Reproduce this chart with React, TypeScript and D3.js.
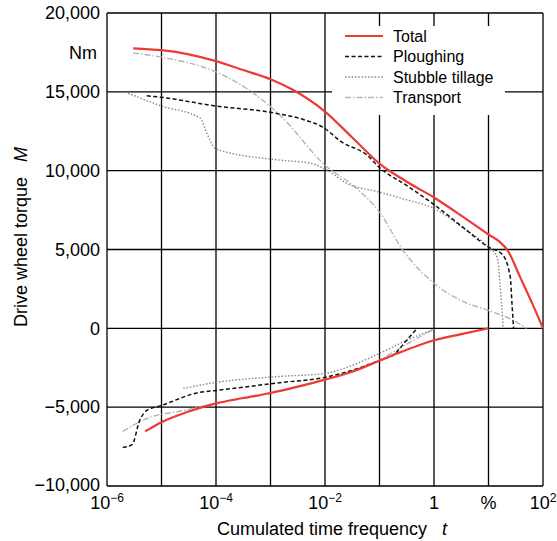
import * as d3 from 'd3';
import React, {useEffect} from 'react';

// exponent of t (log10) and torque M in Nm
const totalUpperT = [-5.52, -5.0, -4.5, -4.0, -3.5, -3.0, -2.6, -2.0, -1.5, -1.0, -0.5, 0, 0.5, 1.0, 1.2, 1.35, 1.58, 1.8, 2.0];
const totalUpperM = [17760, 17640, 17380, 16950, 16380, 15800, 15150, 13750, 12100, 10450, 9300, 8300, 7150, 5950, 5500, 4950, 3250, 1600, 0];
const totalLowerT = [-5.3, -5.0, -4.53, -4.0, -3.5, -3.0, -2.5, -2.0, -1.5, -1.0, -0.68, -0.3, 0, 0.48, 1.0];
const totalLowerM = [-6540, -5950, -5310, -4760, -4420, -4100, -3700, -3250, -2750, -2050, -1600, -1100, -760, -380, 0];

const ploughUpperT = [-5.27, -5.0, -4.0, -3.0, -2.83, -2.4, -2.04, -1.69, -1.23, -1.0, -0.5, 0, 0.5, 1.0, 1.25, 1.4, 1.43, 1.46];
const ploughUpperM = [14750, 14650, 14100, 13700, 13590, 13250, 12760, 11810, 10990, 10200, 9050, 7850, 6500, 5150, 4700, 3250, 1600, 0];
const ploughLowerT = [-5.71, -5.54, -5.4, -5.27, -5.0, -4.3, -4.0, -2.83, -2.0, -1.0, -0.71, -0.53, -0.31];
const ploughLowerM = [-7560, -7370, -5840, -5210, -4890, -4060, -3940, -3450, -3110, -2030, -1590, -870, 0];

const stubbleUpperT = [-5.67, -5.0, -4.29, -4.17, -4.0, -2.83, -2.28, -1.96, -1.6, -1.0, -0.5, 0, 0.5, 1.0, 1.16, 1.21, 1.27];
const stubbleUpperM = [14990, 14100, 13330, 12380, 11370, 10670, 10480, 10030, 9200, 8640, 8150, 7600, 6450, 5140, 4510, 2860, 0];
const stubbleLowerT = [-4.6, -4.0, -2.83, -2.0, -1.6, -1.0, -0.5, 0];
const stubbleLowerM = [-3810, -3430, -3050, -2860, -2480, -1590, -760, -60];

const transportUpperT = [-5.52, -5.0, -4.0, -3.45, -2.83, -2.0, -1.41, -1.0, -0.57, 0, 0.61, 1.0, 1.45, 1.7];
const transportUpperM = [17460, 17200, 16260, 15240, 13530, 10350, 8850, 7370, 4950, 2860, 1590, 1140, 510, 0];
const transportLowerT = [-5.71, -5.27, -4.6, -4.0, -3.0, -2.0, -1.0, -0.5, 0];
const transportLowerM = [-6540, -5720, -5210, -4760, -4120, -3250, -2000, -1000, -50];

const xTickExp = [-6, -5, -4, -3, -2, -1, 0, 1, 2];
const xTickLabels = ['10|−6', '', '10|−4', '', '10|−2', '', '1', '%', '10|2'];
const yTicks = [-10000, -5000, 0, 5000, 10000, 15000, 20000];

const seriesNames = ['Total', 'Ploughing', 'Stubble tillage', 'Transport'];
const seriesColors = ['#ee3a34', '#111111', '#888888', '#b4b4b4'];
const seriesDash = ['', '4,2.5', '1.5,1.8', '6,2,1.5,2'];
const seriesWidth = [2.2, 1.5, 1.4, 1.4];

export default function App() {
  const chartRef = React.useRef<HTMLDivElement>(null);

  useEffect(() => {
    drawChart();
  }, []);

  function drawChart() {
    const container = d3.select(chartRef.current);
    container.selectAll('*').remove();

    const W = 557, H = 541;
    const margin = {top: 13, right: 14, bottom: 55, left: 107};
    const width = W - margin.left - margin.right;
    const height = H - margin.top - margin.bottom;
    const font = 'Liberation Sans, Arial, sans-serif';

    const svg = container.append('svg')
      .attr('width', W)
      .attr('height', H)
      .style('position', 'absolute')
      .style('left', 0)
      .style('top', 0)
      .style('background', '#fff');

    const g = svg.append('g')
      .attr('transform', 'translate(' + margin.left + ',' + margin.top + ')');

    const x = d3.scaleLog().domain([1e-6, 1e2]).range([0, width]);
    const y = d3.scaleLinear().domain([-10000, 20000]).range([height, 0]);

    // grid
    g.append('g').selectAll('line')
      .data(xTickExp)
      .enter().append('line')
      .attr('x1', d => x(Math.pow(10, d))).attr('x2', d => x(Math.pow(10, d)))
      .attr('y1', 0).attr('y2', height)
      .attr('stroke', '#000').attr('stroke-width', 1.3);
    g.append('g').selectAll('line')
      .data(yTicks)
      .enter().append('line')
      .attr('x1', 0).attr('x2', width)
      .attr('y1', d => y(d)).attr('y2', d => y(d))
      .attr('stroke', '#000').attr('stroke-width', 1.3);

    // y tick labels
    const fmt = d3.format(',');
    g.append('g').selectAll('text')
      .data(yTicks)
      .enter().append('text')
      .attr('x', -7)
      .attr('y', d => y(d))
      .attr('dy', d => d === -10000 ? '0.25em' : '0.35em')
      .attr('text-anchor', 'end')
      .attr('font-family', font)
      .attr('font-size', 18)
      .text(d => fmt(d).replace('-', '\u2212'));

    g.append('text')
      .attr('x', -10).attr('y', y(17500)).attr('dy', '0.35em')
      .attr('text-anchor', 'end')
      .attr('font-family', font).attr('font-size', 18)
      .text('Nm');

    // x tick labels
    const xl = g.append('g');
    xTickExp.forEach((e, i) => {
      const lab = xTickLabels[i];
      if (!lab) return;
      const parts = lab.split('|');
      const t = xl.append('text')
        .attr('x', x(Math.pow(10, e)))
        .attr('y', height + 23)
        .attr('text-anchor', 'middle')
        .attr('font-family', font)
        .attr('font-size', 18);
      t.append('tspan').text(parts[0]);
      if (parts[1]) {
        t.append('tspan').attr('dy', -7).attr('font-size', 12).text(parts[1]);
      }
    });

    // axis titles
    const xt = svg.append('text')
      .attr('x', 332).attr('y', 535)
      .attr('text-anchor', 'middle')
      .attr('font-family', font).attr('font-size', 18);
    xt.append('tspan').text('Cumulated time frequency');
    xt.append('tspan').attr('dx', 15).attr('font-style', 'italic').text('t');

    const yt = svg.append('text')
      .attr('transform', 'translate(27,237) rotate(-90)')
      .attr('text-anchor', 'middle')
      .attr('font-family', font).attr('font-size', 18);
    yt.append('tspan').text('Drive wheel torque');
    yt.append('tspan').attr('dx', 15).attr('font-style', 'italic').text('M');

    // curves
    const line = d3.line<[number, number]>()
      .x(d => x(Math.pow(10, d[0])))
      .y(d => y(d[1]))
      .curve(d3.curveMonotoneX);

    const zip = (a: number[], b: number[]) => a.map((v, i) => [v, b[i]] as [number, number]);
    const series = [
      [zip(totalUpperT, totalUpperM), zip(totalLowerT, totalLowerM)],
      [zip(ploughUpperT, ploughUpperM), zip(ploughLowerT, ploughLowerM)],
      [zip(stubbleUpperT, stubbleUpperM), zip(stubbleLowerT, stubbleLowerM)],
      [zip(transportUpperT, transportUpperM), zip(transportLowerT, transportLowerM)],
    ];

    // draw back to front so that Total sits on top
    [3, 2, 1, 0].forEach(si => {
      series[si].forEach(pts => {
        g.append('path')
          .attr('d', line(pts))
          .attr('fill', 'none')
          .attr('stroke', seriesColors[si])
          .attr('stroke-width', seriesWidth[si])
          .attr('stroke-dasharray', seriesDash[si] || null);
      });
    });

    // legend
    const lg = svg.append('g').attr('transform', 'translate(332,26)');
    lg.append('rect')
      .attr('x', 0).attr('y', 0).attr('width', 173).attr('height', 89)
      .attr('fill', '#fff');
    seriesNames.forEach((name, i) => {
      const ly = 10 + i * 20.5;
      lg.append('line')
        .attr('x1', 13).attr('x2', 51)
        .attr('y1', ly).attr('y2', ly)
        .attr('stroke', seriesColors[i])
        .attr('stroke-width', seriesWidth[i])
        .attr('stroke-dasharray', seriesDash[i] || null);
      lg.append('text')
        .attr('x', 61).attr('y', ly).attr('dy', '0.35em')
        .attr('font-family', font).attr('font-size', 16)
        .text(name);
    });
  }

  return (
    <div ref={chartRef}></div>
  );
}
